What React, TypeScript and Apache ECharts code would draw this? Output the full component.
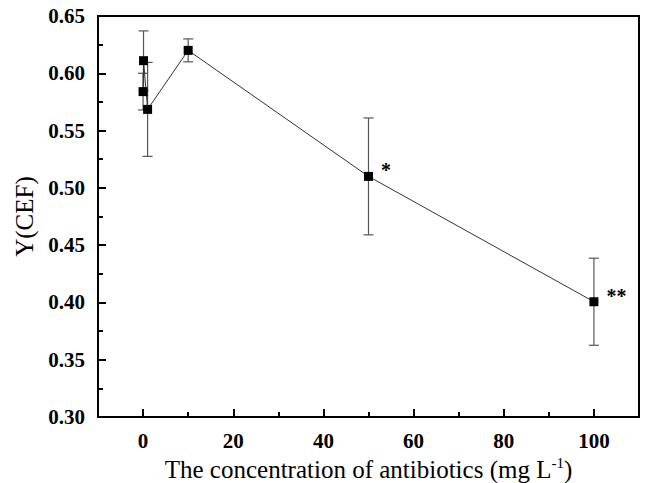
import React, { useEffect, useRef } from "react";
import * as echarts from "echarts";

const concentrations = [0, 0.1, 1, 10, 50, 100];
const yCEF = [0.584, 0.611, 0.5685, 0.62, 0.51, 0.4006];
const errors = [0.016, 0.026, 0.041, 0.01, 0.051, 0.038];
const significance = ["", "", "", "", "*", "**"];
const xMajorTicks = [0, 20, 40, 60, 80, 100];

const FONT = "Liberation Serif";

export default function App() {
  const ref = useRef<HTMLDivElement>(null);
  useEffect(() => {
    if (!ref.current) return;
    const chart = echarts.init(ref.current, null, { renderer: "svg" });
    const errData = concentrations.map((x, i) => [x, yCEF[i], errors[i]]);
    const lineData = concentrations.map((x, i) => ({
      value: [x, yCEF[i]],
      label: significance[i]
        ? {
            show: true,
            formatter: significance[i],
            position: "right",
            distance: 8,
            offset: [0, -6],
            fontFamily: FONT,
            fontWeight: "bold",
            fontSize: 20,
            color: "#000",
          }
        : { show: false },
    }));
    chart.setOption({
      animation: false,
      backgroundColor: "#fff",
      grid: {
        left: 98,
        right: 12,
        top: 16,
        bottom: 66,
        outerBoundsMode: "none",
        containLabel: false,
        show: true,
        borderColor: "#000",
        borderWidth: 2,
        backgroundColor: "transparent",
      },
      xAxis: [
        {
          type: "value",
          min: -10,
          max: 110,
          interval: 10,
          splitLine: { show: false },
          axisLine: { show: true, onZero: false, lineStyle: { color: "#000", width: 2 } },
          axisTick: {
            show: true,
            inside: true,
            length: 8,
            customValues: xMajorTicks,
            lineStyle: { color: "#000", width: 2 },
          },
          axisLabel: {
            customValues: xMajorTicks,
            fontFamily: FONT,
            fontWeight: "bold",
            fontSize: 21,
            color: "#000",
            margin: 13,
          },
          name: "The concentration of antibiotics (mg L{sup|-1})",
          nameLocation: "middle",
          nameGap: 36,
          nameTextStyle: {
            fontFamily: FONT,
            fontSize: 25,
            color: "#000",
            rich: {
              sup: { fontFamily: FONT, fontSize: 15, color: "#000", verticalAlign: "bottom", padding: [0, 0, 12, 0] },
            },
          },
        },
        {
          type: "value",
          min: -10,
          max: 110,
          interval: 10,
          position: "bottom",
          splitLine: { show: false },
          axisLine: { show: false, onZero: false },
          axisTick: {
            show: true,
            inside: true,
            length: 5,
            lineStyle: { color: "#000", width: 2 },
          },
          axisLabel: { show: false },
        },
      ],
      yAxis: {
        type: "value",
        min: 0.3,
        max: 0.65,
        interval: 0.05,
        splitLine: { show: false },
        axisLine: { show: true, onZero: false, lineStyle: { color: "#000", width: 2 } },
        axisTick: { show: true, inside: true, length: 8, lineStyle: { color: "#000", width: 2 } },
        minorTick: { show: true, splitNumber: 2, length: 5, lineStyle: { color: "#000", width: 2 } },
        minorSplitLine: { show: false },
        axisLabel: {
          formatter: (v: number) => v.toFixed(2),
          fontFamily: FONT,
          fontWeight: "bold",
          fontSize: 21,
          color: "#000",
          margin: 13,
        },
        name: "Y(CEF)",
        nameLocation: "middle",
        nameGap: 52,
        nameTextStyle: { fontFamily: FONT, fontSize: 25, color: "#000" },
      },
      series: [
        {
          type: "custom",
          z: 1,
          data: errData,
          encode: { x: 0, y: 1 },
          renderItem: (params: any, api: any) => {
            const x = api.value(0);
            const y = api.value(1);
            const e = api.value(2);
            const top = api.coord([x, y + e]);
            const bot = api.coord([x, y - e]);
            const style = { stroke: "#555", lineWidth: 1.2 };
            const hw = 5;
            return {
              type: "group",
              children: [
                { type: "line", shape: { x1: top[0], y1: top[1], x2: bot[0], y2: bot[1] }, style },
                { type: "line", shape: { x1: top[0] - hw, y1: top[1], x2: top[0] + hw, y2: top[1] }, style },
                { type: "line", shape: { x1: bot[0] - hw, y1: bot[1], x2: bot[0] + hw, y2: bot[1] }, style },
              ],
            };
          },
        },
        {
          type: "line",
          z: 3,
          data: lineData,
          symbol: "rect",
          symbolSize: 9,
          itemStyle: { color: "#000" },
          lineStyle: { color: "#333", width: 1 },
        },
      ],
    });
    return () => chart.dispose();
  }, []);
  return (
    <div
      ref={ref}
      style={{ position: "fixed", left: 0, top: 0, width: 651, height: 483, background: "#fff" }}
    />
  );
}
